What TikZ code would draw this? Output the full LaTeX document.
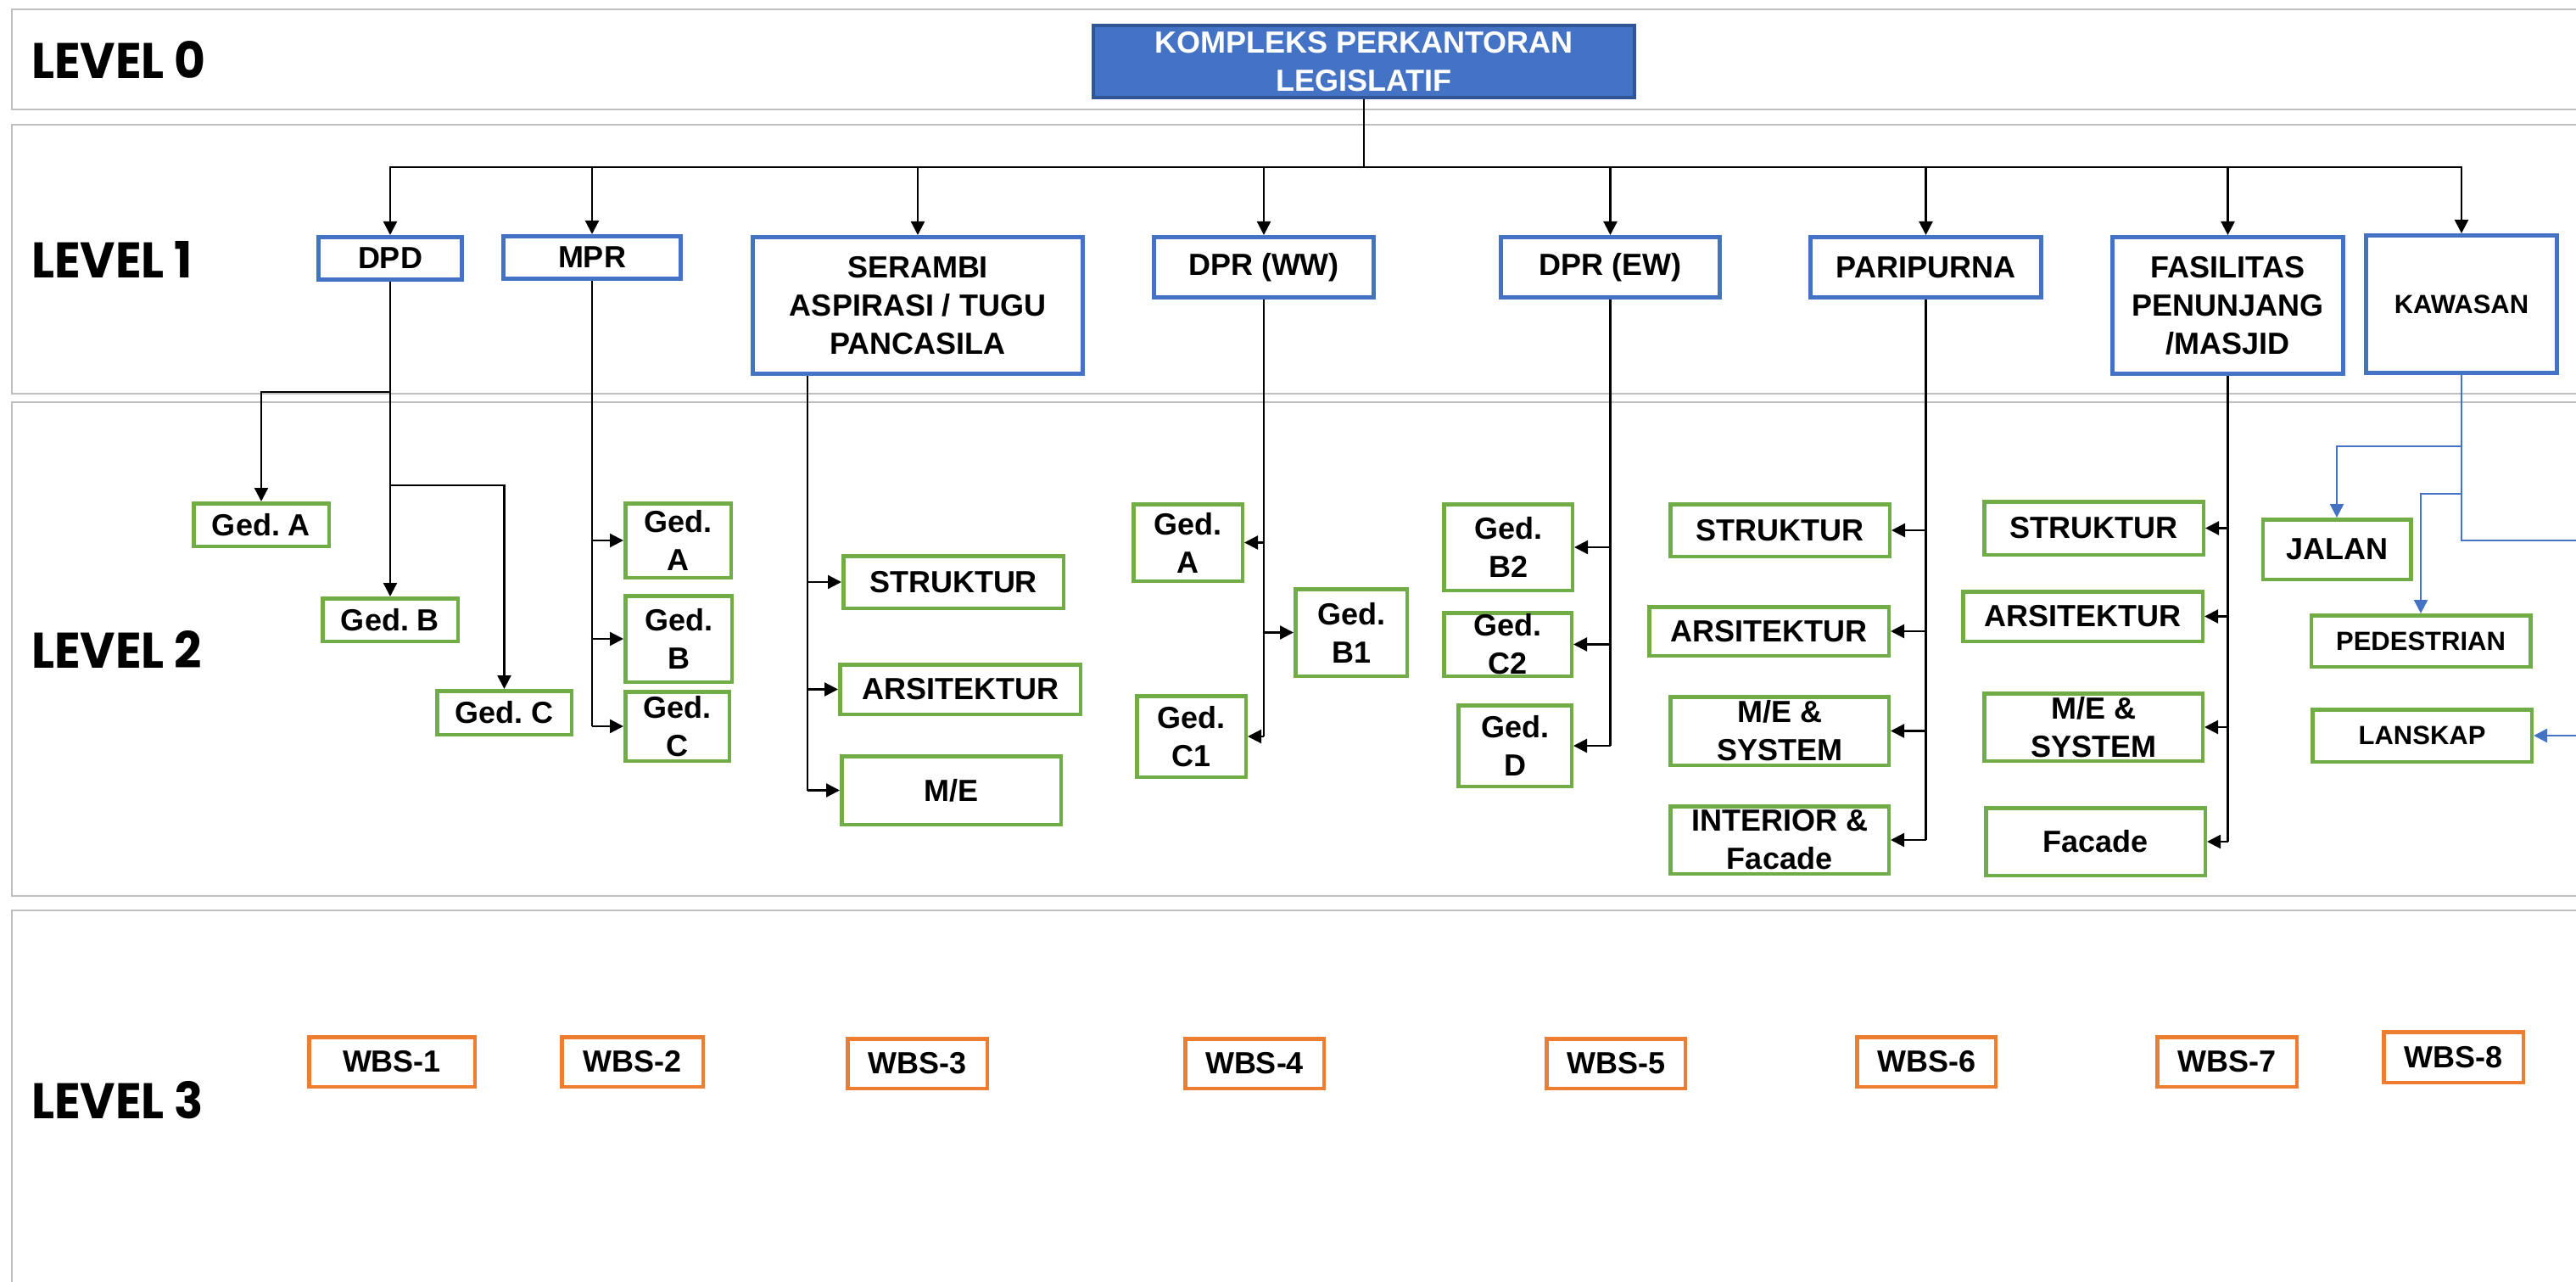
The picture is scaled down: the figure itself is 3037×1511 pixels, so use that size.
\documentclass[tikz,border=0pt]{standalone}
\usepackage{fontspec}
\setmainfont{Liberation Sans}
\newfontfamily\lvlfont{Poppins}[FakeStretch=0.96]
\usepackage{xcolor}
\usetikzlibrary{arrows.meta}
\definecolor{wbsblue}{HTML}{4472C4}
\definecolor{wbsnavy}{HTML}{2F5597}
\definecolor{wbsgreen}{HTML}{70AD47}
\definecolor{wbsorange}{HTML}{ED7D31}
\definecolor{panelgray}{HTML}{BFBFBF}
\tikzset{boxsize/.style n args={2}{minimum width=#1pt,minimum height=#2pt}}
\frenchspacing

\begin{document}
\begin{tikzpicture}[x=1pt,y=-1pt,
        panel/.style={draw=panelgray,line width=2pt},
        levellabel/.style={anchor=base west,inner sep=0pt,font=\lvlfont\bfseries\fontsize{59}{59}\selectfont},
        box/.style={rectangle,inner sep=0pt,align=center,fill=white,font=\bfseries\fontsize{36}{45}\selectfont},
        head/.style={box,fill=wbsblue,draw=wbsnavy,line width=4pt,text=white},
        group/.style={box,draw=wbsblue,line width=5pt},
        part/.style={box,draw=wbsgreen,line width=4.5pt},
        wbs/.style={box,draw=wbsorange,line width=4.5pt},
        small/.style={font=\bfseries\fontsize{31}{38}\selectfont},
        trunk/.style={line width=2.3pt},
        link/.style={trunk,-{Triangle[length=16pt,width=16pt]}},
        btrunk/.style={trunk,draw=wbsblue},
        blink/.style={link,draw=wbsblue}]

        \useasboundingbox (0,0) rectangle (3037,1511);
        \clip (0,0) rectangle (3037,1511);

        \draw[panel] (14,11) rectangle (3060,129);
        \draw[panel] (14,147) rectangle (3060,464);
        \draw[panel] (14,474) rectangle (3060,1056);
        \draw[panel] (14,1073) rectangle (3060,1530);

        \node[levellabel] (lv0) at (37,93)   {LEVEL 0};
        \node[levellabel] (lv1) at (37,328)  {LEVEL 1};
        \node[levellabel] (lv2) at (37,787)  {LEVEL 2};
        \node[levellabel] (lv3) at (37,1318) {LEVEL 3};

        % level 0 and 1
        \node[head,boxsize={638}{85}] (top) at (1608,72.5) {KOMPLEKS PERKANTORAN\\LEGISLATIF};

        \node[group,boxsize={169}{50}]  (dpd)       at (460,304.5)  {DPD};
        \node[group,boxsize={209}{50}]  (mpr)       at (698,303.5)  {MPR};
        \node[group,boxsize={389}{161}] (serambi)   at (1082,360)   {SERAMBI\\ASPIRASI / TUGU\\PANCASILA};
        \node[group,boxsize={259}{71}]  (dprww)     at (1490,315)   {DPR (WW)};
        \node[group,boxsize={258}{71}]  (dprew)     at (1898.5,315) {DPR (EW)};
        \node[group,boxsize={272}{71}]  (paripurna) at (2270.5,315) {PARIPURNA};
        \node[group,boxsize={272}{161}] (fasilitas) at (2626.5,360) {FASILITAS\\PENUNJANG\\/MASJID};
        \node[group,small,boxsize={225}{162}] (kawasan) at (2902,358.5) {KAWASAN};

        \coordinate (bus) at (1608,197);
        \draw[trunk] (top) -- (bus);
        \foreach \n in {dpd,mpr,serambi,dprww,dprew,paripurna,fasilitas,kawasan}
            \draw[link] (bus) -| (\n);

        % level 2
        \node[part,boxsize={159.5}{50.5}] (dpdA) at (308,618.5) {Ged. A};
        \node[part,boxsize={159.5}{50.5}] (dpdB) at (460,730.5) {Ged. B};
        \node[part,boxsize={158.5}{51.5}] (dpdC) at (594.5,840) {Ged. C};

        \coordinate (dpdj) at (460,462);
        \coordinate (dpdk) at (460,572);
        \draw[link] (dpd) -- (dpdB);
        \draw[link] (dpdj) -| (dpdA);
        \draw[link] (dpdk) -| (dpdC);

        \node[part,boxsize={124.5}{87.5}]  (mprA) at (799.5,637) {Ged.\\A};
        \node[part,boxsize={125.5}{101.5}] (mprB) at (800,753)   {Ged.\\B};
        \node[part,boxsize={122.5}{81.5}]  (mprC) at (798.5,856) {Ged.\\C};

        \draw[trunk] (mpr) -- (mpr |- mprC);
        \foreach \n in {mprA,mprB,mprC}
            \draw[link] (mpr |- \n) -- (\n);

        \node[part,boxsize={259.5}{61.5}] (srmS) at (1124,686)    {STRUKTUR};
        \node[part,boxsize={283.5}{58.5}] (srmA) at (1132,812.5)  {ARSITEKTUR};
        \node[part,boxsize={258.5}{80.5}] (srmM) at (1121.5,931.5) {M/E};

        \coordinate (srmT) at (952,443);
        \draw[trunk] (srmT) -- (srmT |- srmM);
        \foreach \n in {srmS,srmA,srmM}
            \draw[link] (srmT |- \n) -- (\n);

        \node[part,boxsize={128.5}{90.5}]  (wwA) at (1400.5,639.5) {Ged.\\A};
        \node[part,boxsize={131.5}{102.5}] (wwB) at (1593,745.5)   {Ged.\\B1};
        \node[part,boxsize={128.5}{95.5}]  (wwC) at (1404.5,868)   {Ged.\\C1};

        \draw[trunk] (dprww) -- (dprww |- wwC);
        \foreach \n in {wwA,wwB,wwC}
            \draw[link] (dprww |- \n) -- (\n);

        \node[part,boxsize={151.5}{101.5}] (ewB) at (1778,645)     {Ged.\\B2};
        \node[part,boxsize={150.5}{74.5}]  (ewC) at (1777.5,759.5) {Ged.\\C2};
        \node[part,boxsize={133.5}{95.5}]  (ewD) at (1786,879)     {Ged.\\D};

        \draw[trunk] (dprew) -- (dprew |- ewD);
        \foreach \n in {ewB,ewC,ewD}
            \draw[link] (dprew |- \n) -- (\n);

        \node[part,boxsize={258.5}{61.5}] (parS) at (2098.5,625) {STRUKTUR};
        \node[part,boxsize={282.5}{57.5}] (parA) at (2085.5,744) {ARSITEKTUR};
        \node[part,boxsize={257.5}{80.5}] (parM) at (2098,861.5) {M/E \&\\SYSTEM};
        \node[part,boxsize={257.5}{79.5}] (parI) at (2098,990)   {INTERIOR \&\\Facade};

        \draw[trunk] (paripurna) -- (paripurna |- parI);
        \foreach \n in {parS,parA,parM,parI}
            \draw[link] (paripurna |- \n) -- (\n);

        \node[part,boxsize={258.5}{62.5}] (fasS) at (2468.5,622.5) {STRUKTUR};
        \node[part,boxsize={282.5}{58.5}] (fasA) at (2455.5,726.5) {ARSITEKTUR};
        \node[part,boxsize={257.5}{79.5}] (fasM) at (2468,857)     {M/E \&\\SYSTEM};
        \node[part,boxsize={258.5}{79.5}] (fasF) at (2470.5,992)   {Facade};

        \draw[trunk] (fasilitas) -- (fasilitas |- fasF);
        \foreach \n in {fasS,fasA,fasM,fasF}
            \draw[link] (fasilitas |- \n) -- (\n);

        \node[part,boxsize={174.5}{70.5}]       (jalan)   at (2755,647.5)  {JALAN};
        \node[part,small,boxsize={258.5}{60.5}] (pedes)   at (2854,755.5)  {PEDESTRIAN};
        \node[part,small,boxsize={258.5}{61.5}] (lanskap) at (2855.5,867)  {LANSKAP};

        \coordinate (kwj) at (2902,526);
        \coordinate (kwp) at (2902,582);
        \coordinate (kwe) at (3050,637);
        \coordinate (kwl) at (3050,867);
        \draw[btrunk] (kawasan) |- (kwe);
        \draw[blink] (kwj) -| (jalan);
        \draw[blink] (kwp) -| (pedes);
        \draw[blink] (kwl) -- (lanskap);

        % level 3
        \node[wbs,boxsize={195.5}{58.5}] (wbs1) at (462,1251.5)    {WBS-1};
        \node[wbs,boxsize={166.5}{58.5}] (wbs2) at (745.5,1251.5)  {WBS-2};
        \node[wbs,boxsize={164.5}{58.5}] (wbs3) at (1081.5,1253.5) {WBS-3};
        \node[wbs,boxsize={163.5}{58.5}] (wbs4) at (1479,1253.5)   {WBS-4};
        \node[wbs,boxsize={163.5}{58.5}] (wbs5) at (1905,1253.5)   {WBS-5};
        \node[wbs,boxsize={163.5}{58.5}] (wbs6) at (2271,1251.5)   {WBS-6};
        \node[wbs,boxsize={164.5}{58.5}] (wbs7) at (2625.5,1251.5) {WBS-7};
        \node[wbs,boxsize={164.5}{59.5}] (wbs8) at (2892.5,1246)   {WBS-8};

\end{tikzpicture}
\end{document}
